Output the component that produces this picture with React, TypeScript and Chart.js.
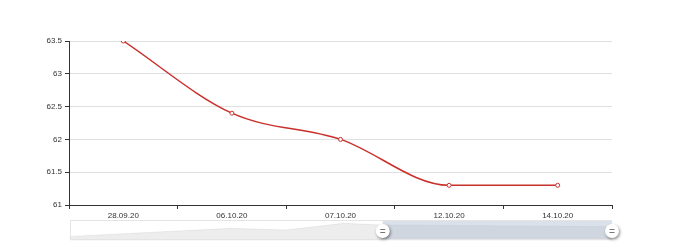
import React, { useEffect, useRef } from "react";
import { Chart, registerables } from "chart.js";

Chart.register(...registerables);

const categories = ["28.09.20", "06.10.20", "07.10.20", "12.10.20", "14.10.20"];
const values = [63.5, 62.4, 62.0, 61.3, 61.3];
const yMin = 61;
const yMax = 63.5;
const yStep = 0.5;
// data-zoom window (fractions of the full range)
const zoomStart = 0.577;
const zoomEnd = 1.0;
// slider data shadow: [position fraction, level fraction 0=bottom 1=top]
const shadowPos = [0, 0.297, 0.398, 0.505, 0.573, 1];
const shadowLvl = [0.18, 0.585, 0.5, 0.835, 0.75, 0.665];

const sliderPlugin = {
  id: "slider",
  afterDraw(chart: any) {
    const { ctx, chartArea } = chart;
    const left = chartArea.left + 1;
    const right = chartArea.right;
    const top = 220;
    const bottom = 240;
    const w = right - left;
    const h = bottom - top;
    ctx.save();
    ctx.fillStyle = "#ffffff";
    ctx.fillRect(left, top, w, h);
    ctx.beginPath();
    ctx.moveTo(left, bottom);
    for (let i = 0; i < shadowPos.length; i++) {
      ctx.lineTo(left + shadowPos[i] * w, bottom - shadowLvl[i] * h);
    }
    ctx.lineTo(right, bottom);
    ctx.closePath();
    ctx.fillStyle = "rgba(0,0,0,0.07)";
    ctx.fill();
    ctx.strokeStyle = "rgba(0,0,0,0.06)";
    ctx.lineWidth = 1;
    ctx.stroke();
    const sx = left + zoomStart * w;
    const ex = left + zoomEnd * w;
    ctx.fillStyle = "rgba(167,183,204,0.42)";
    ctx.fillRect(sx, top, ex - sx, h);
    ctx.strokeStyle = "#e4e4e4";
    ctx.lineWidth = 1;
    ctx.strokeRect(left + 0.5, top + 0.5, w - 1, h - 1);
    const cy = top + h / 2 + 1;
    for (const hx of [sx, ex]) {
      ctx.save();
      ctx.shadowColor = "rgba(0,0,0,0.45)";
      ctx.shadowBlur = 3;
      ctx.shadowOffsetX = 1;
      ctx.shadowOffsetY = 1.5;
      ctx.beginPath();
      ctx.arc(hx, cy, 7, 0, Math.PI * 2);
      ctx.fillStyle = "#ffffff";
      ctx.fill();
      ctx.restore();
      ctx.strokeStyle = "#777";
      ctx.lineWidth = 1;
      ctx.beginPath();
      ctx.moveTo(hx - 2.5, cy - 1.5);
      ctx.lineTo(hx + 2.5, cy - 1.5);
      ctx.moveTo(hx - 2.5, cy + 1.5);
      ctx.lineTo(hx + 2.5, cy + 1.5);
      ctx.stroke();
    }
    ctx.restore();
  },
};

export default function App() {
  const ref = useRef<HTMLCanvasElement>(null);
  useEffect(() => {
    if (!ref.current) return;
    const font = { family: "'Liberation Sans', Arial, sans-serif", size: 8 };
    const chart = new Chart(ref.current, {
      type: "line",
      data: {
        labels: categories,
        datasets: [
          {
            data: values,
            borderColor: "#c92f2b",
            borderWidth: 1.5,
            backgroundColor: "#ffffff",
            pointBackgroundColor: "#ffffff",
            pointBorderColor: "#c92f2b",
            pointBorderWidth: 1,
            pointRadius: 2,
            cubicInterpolationMode: "monotone",
            fill: false,
          },
        ],
      },
      options: {
        responsive: false,
        animation: false,
        events: [],
        layout: { padding: { top: 41, right: 68, left: 0, bottom: 0 } },
        plugins: { legend: { display: false }, tooltip: { enabled: false } },
        scales: {
          x: {
            offset: true,
            afterFit: (s: any) => {
              s.height = 40;
            },
            grid: {
              offset: true,
              drawOnChartArea: false,
              drawTicks: true,
              tickLength: 4,
              tickColor: "#333",
            },
            border: { display: true, color: "#333", width: 1 },
            ticks: { color: "#333", font, padding: 2, maxRotation: 0, autoSkip: false },
          },
          y: {
            min: yMin,
            max: yMax,
            afterFit: (s: any) => {
              s.width = 69;
            },
            ticks: {
              stepSize: yStep,
              color: "#333",
              font,
              padding: 3,
              callback: (v: any) => String(Math.round(Number(v) * 10) / 10),
            },
            grid: { color: "#e0e0e0", tickColor: "#333", tickLength: 4, drawTicks: true },
            border: { display: true, color: "#333", width: 1 },
          },
        },
      },
      plugins: [sliderPlugin],
    } as any);
    return () => chart.destroy();
  }, []);
  return (
    <div style={{ position: "fixed", left: 0, top: 0, width: 680, height: 245, background: "#fff" }}>
      <canvas ref={ref} width={680} height={245} />
    </div>
  );
}
